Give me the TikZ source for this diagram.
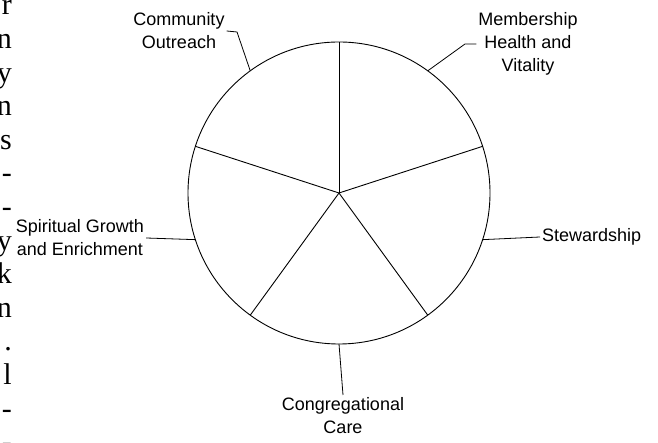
\documentclass[tikz,border=0pt]{standalone}
\usepackage{fontspec}
\setmainfont{Liberation Sans}
\newfontfamily\edgefont{Liberation Serif}
\usetikzlibrary{calc}

\tikzset{
    slice/.style = {line width=0.9pt},
    leader/.style = {line width=0.8pt},
    sectorlabel/.style = {align=center, inner sep=2pt, font=\fontsize{18}{23}\selectfont},
    cutletter/.style = {anchor=base east, inner sep=0pt, font=\edgefont\fontsize{30}{34}\selectfont}
}

\begin{document}
\begin{tikzpicture}[x=1pt, y=1pt]

            \useasboundingbox (0,0) rectangle (658,443);
            \clip (0,0) rectangle (658,443);

                % Text running off the left edge:
                \foreach \ch [count=\i from 0] in {r,n,y,n,s,-,-,y,k,n,.,l,-,-}
                    \node[cutletter] (edge\i) at (12, 428-33.6*\i) {\ch};

                % Pie:
                \coordinate (centre) at (339,250);
                \draw[slice] (centre) circle (151);
                \foreach \a in {90,18,-54,-126,162}
                    \draw[slice] (centre) -- ++(\a:151);

                % Points on the rim, one per slice:
                \coordinate (rimA) at ($(centre)+(126:151)$);
                \coordinate (rimB) at ($(centre)+(54:151)$);
                \coordinate (rimC) at ($(centre)+(-18:151)$);
                \coordinate (rimD) at ($(centre)+(-90:151)$);
                \coordinate (rimE) at ($(centre)+(198:151)$);

                % Labels:
                \node[sectorlabel] (outreach) at (179,412) {Community\\Outreach};
                \node[sectorlabel] (membership) at (528,399) {Membership\\Health and\\Vitality};
                \node[sectorlabel, anchor=west] (stewardship) at (540,206) {Stewardship};
                \node[sectorlabel, anchor=north] (care) at (343,48) {Congregational\\Care};
                \node[sectorlabel] (spiritual) at (80,205) {Spiritual Growth\\and Enrichment};

                % Leaders:
                \draw[leader] (rimA) -- (237,411) -- (outreach.east);
                \draw[leader] (rimB) -- (465,399) -- (membership.west);
                \draw[leader] (rimC) -- (stewardship.west);
                \draw[leader] (rimD) -- (care.north);
                \draw[leader] (rimE) -- (spiritual.east);
            \end{tikzpicture}
\end{document}
